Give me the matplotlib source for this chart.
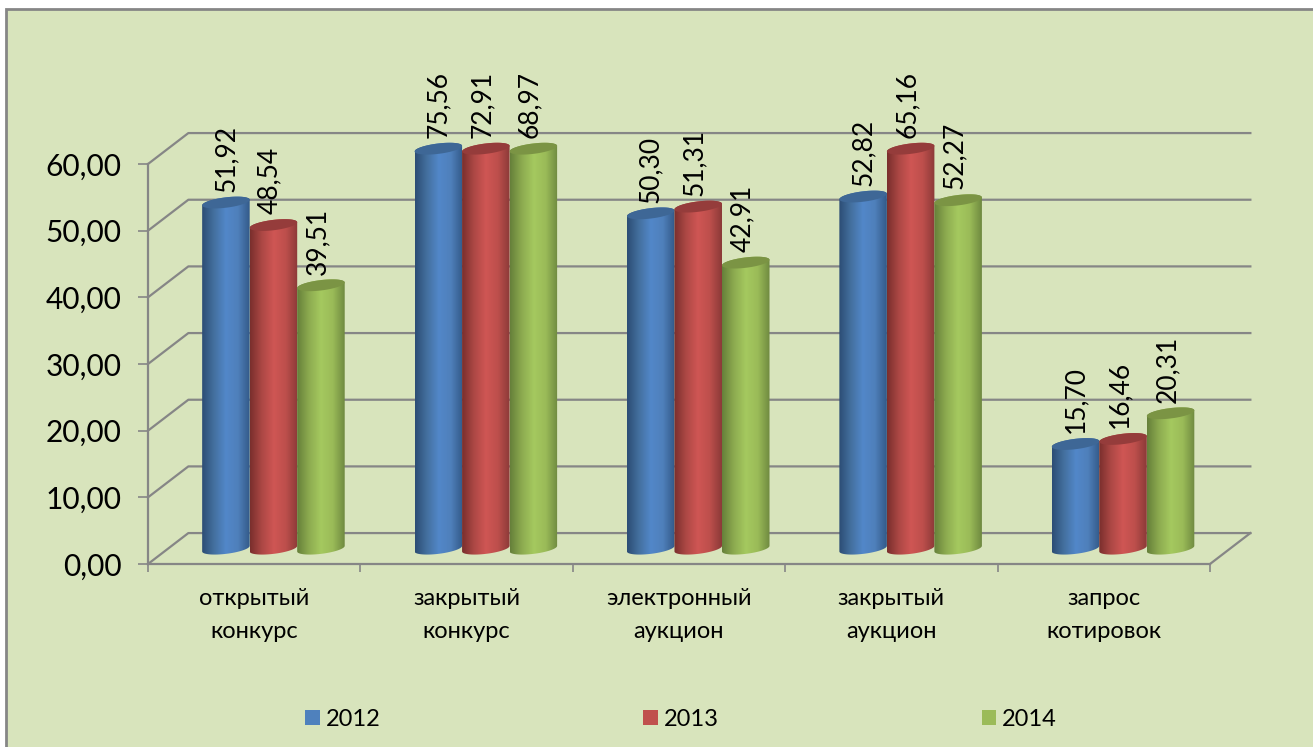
import numpy as np
import matplotlib
matplotlib.use("Agg")
import matplotlib.pyplot as plt
from matplotlib.patches import Patch, Polygon, Rectangle

matplotlib.rcParams["font.family"] = ["Lato", "Noto Sans", "DejaVu Sans"]

categories = [
    "открытый\nконкурс",
    "закрытый\nконкурс",
    "электронный\nаукцион",
    "закрытый\nаукцион",
    "запрос\nкотировок",
]
years = ["2012", "2013", "2014"]
values_2012 = [51.92, 75.56, 50.30, 52.82, 15.70]
values_2013 = [48.54, 72.91, 51.31, 65.16, 16.46]
values_2014 = [39.51, 68.97, 42.91, 52.27, 20.31]
y_ticks = [0, 10, 20, 30, 40, 50, 60]
y_tick_labels = ["0,00", "10,00", "20,00", "30,00", "40,00", "50,00", "60,00"]

series = [values_2012, values_2013, values_2014]
legend_colors = ["#4f81bd", "#c0504d", "#9bbb59"]
top_colors = ["#3e6796", "#953c3b", "#7b9444"]
side_colors = [
    ["#2c4d75", "#44709f", "#5287c9", "#4f80bb", "#335a89"],
    ["#7a2f2d", "#ad4845", "#cf5654", "#bd4f4c", "#8c3a38"],
    ["#66803a", "#8dab50", "#a5c95f", "#9abb58", "#6f8a40"],
]

W, H = 1313, 747
GRID = "#868686"
BG = "#d8e4bc"

fig = plt.figure(figsize=(W / 100, H / 100), dpi=100, facecolor="white")
fig.add_artist(Rectangle((6 / W, -0.01), 1.02, 1 - 9 / H + 0.01, transform=fig.transFigure,
                         facecolor=BG, edgecolor=GRID, linewidth=2, zorder=-5))

ax = fig.add_axes([148 / W, 1 - 564 / H, 1062 / W, 400 / H])
ax.patch.set_visible(False)

# depth of the fake 3d box, in data units
depth_x = 0.19
depth_y = 4.64
# the cylinders stand in the middle of the floor
base_y = 2.3
bar_w = 0.2237
group_start = 0.255
ell_h = 0.78
ell_tilt = 0.42

# walls
for t in y_ticks:
    ax.plot([0, depth_x, 5 + depth_x], [t, t + depth_y, t + depth_y], color=GRID, lw=1.6,
            clip_on=False, zorder=1)
ax.plot([5, 5 + depth_x], [0, depth_y], color=GRID, lw=1.6, clip_on=False, zorder=1)


def ellipse(cx, cy, t):
    x = cx + bar_w / 2 * np.cos(t)
    y = cy + ell_h * np.sin(t) + ell_tilt * np.cos(t)
    return np.column_stack([x, y])


def cylinder(x0, top, stops, top_color, z):
    cx = x0 + bar_w / 2
    lower = ellipse(cx, base_y, np.linspace(np.pi, 2 * np.pi, 40))
    upper = ellipse(cx, base_y + top, np.linspace(0, np.pi, 40))
    outline = Polygon(np.vstack([lower, upper]), closed=True, transform=ax.transData,
                      facecolor="none", edgecolor="none", zorder=z, clip_on=False)
    ax.add_patch(outline)
    rgb = np.array([matplotlib.colors.to_rgb(c) for c in stops])
    pos = np.linspace(0, 1, len(stops))
    xs = np.linspace(0, 1, 80)
    grad = np.stack([np.interp(xs, pos, rgb[:, k]) for k in range(3)], axis=-1)[np.newaxis, :, :]
    im = ax.imshow(grad, extent=[x0, x0 + bar_w, 0, base_y + top + 2], aspect="auto",
                   interpolation="bilinear", zorder=z)
    # the 60 cap sits above the axes box, so only the outline may clip it
    im.set_clip_box(fig.bbox)
    im.set_clip_path(outline)
    ax.add_patch(Polygon(ellipse(cx, base_y + top, np.linspace(0, 2 * np.pi, 60)), closed=True,
                         facecolor=top_color, edgecolor="none", zorder=z + 0.1, clip_on=False))


z = 2
for i in range(len(categories)):
    for j, vals in enumerate(series):
        x0 = i + group_start + j * bar_w
        top = min(vals[i], 60)
        cylinder(x0, top, side_colors[j], top_colors[j], z)
        z += 1
        ax.annotate(f"{vals[i]:.2f}".replace(".", ","), (x0 + bar_w / 2, base_y + top + ell_h),
                    xytext=(-2.5 if j > 0 else 0, 4), textcoords="offset points", rotation=90,
                    ha="center", va="bottom", fontsize=19, color="black", zorder=50,
                    annotation_clip=False)

ax.set_xlim(0, 5)
ax.set_ylim(0, 60)

for side in ["top", "right"]:
    ax.spines[side].set_visible(False)
for side in ["left", "bottom"]:
    ax.spines[side].set_color(GRID)
    ax.spines[side].set_linewidth(1.6)
    ax.spines[side].set_zorder(1)

ax.set_yticks(y_ticks)
ax.set_yticklabels(y_tick_labels, fontsize=21.5)
ax.tick_params(axis="y", length=7, width=1.2, color=GRID, pad=12)
ax.set_xticks(range(6))
ax.set_xticklabels([])
ax.tick_params(axis="x", which="major", length=6, width=1.2, color=GRID)
ax.set_xticks(np.arange(5) + 0.5, minor=True)
ax.set_xticklabels(categories, minor=True, fontsize=17, linespacing=1.7)
ax.tick_params(axis="x", which="minor", length=0, pad=17)

handles = [Patch(facecolor=c, edgecolor="none") for c in legend_colors]
fig.legend(handles, years, loc="center", bbox_to_anchor=(681 / W, 1 - 719 / H), ncol=3,
           frameon=False, fontsize=17, handlelength=0.62, handleheight=0.62,
           handletextpad=0.25, columnspacing=11.13, borderpad=0, borderaxespad=0)

fig.savefig("out.png", dpi=100, facecolor=fig.get_facecolor())
